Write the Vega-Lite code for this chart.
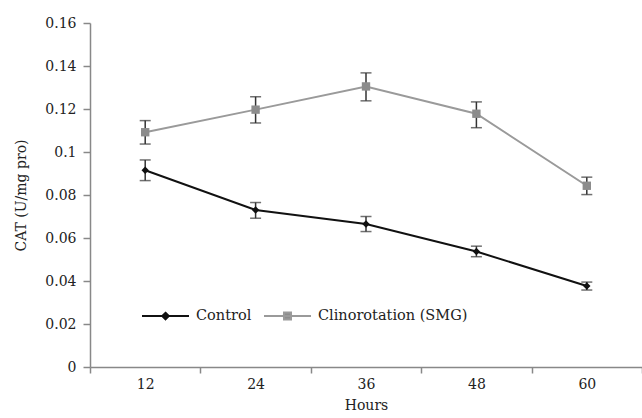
{
  "$schema": "https://vega.github.io/schema/vega-lite/v6.json",
  "width": 552,
  "height": 344,
  "autosize": {"type": "none"},
  "padding": {"left": 90, "top": 23, "right": 0, "bottom": 51},
  "background": "white",
  "config": {"view": {"stroke": null}, "font": "DejaVu Serif"},
  "data": {
    "values": [
      {"Hours": "12", "Group": "Control", "mean": 0.0915, "lo": 0.0867, "hi": 0.0963},
      {"Hours": "24", "Group": "Control", "mean": 0.0730, "lo": 0.0692, "hi": 0.0765},
      {"Hours": "36", "Group": "Control", "mean": 0.0665, "lo": 0.0630, "hi": 0.0700},
      {"Hours": "48", "Group": "Control", "mean": 0.0537, "lo": 0.0513, "hi": 0.0562},
      {"Hours": "60", "Group": "Control", "mean": 0.0377, "lo": 0.0358, "hi": 0.0395},
      {"Hours": "12", "Group": "Clinorotation (SMG)", "mean": 0.1092, "lo": 0.1037, "hi": 0.1146},
      {"Hours": "24", "Group": "Clinorotation (SMG)", "mean": 0.1197, "lo": 0.1135, "hi": 0.1257},
      {"Hours": "36", "Group": "Clinorotation (SMG)", "mean": 0.1305, "lo": 0.1238, "hi": 0.1368},
      {"Hours": "48", "Group": "Clinorotation (SMG)", "mean": 0.1178, "lo": 0.1113, "hi": 0.1233},
      {"Hours": "60", "Group": "Clinorotation (SMG)", "mean": 0.0843, "lo": 0.0802, "hi": 0.0883}
    ]
  },
  "encoding": {
    "x": {
      "field": "Hours", "type": "ordinal", "sort": null,
      "scale": {"type": "band", "paddingInner": 0, "paddingOuter": 0},
      "axis": {
        "title": "Hours", "labelAngle": 0, "tickBand": "extent",
        "domainColor": "#888", "domainWidth": 1.5, "tickColor": "#888", "tickWidth": 1.5, "tickSize": 6,
        "labelFontSize": 14, "labelColor": "#222", "labelPadding": 4,
        "titleFontSize": 14, "titleFontWeight": "normal", "titleColor": "#222", "titlePadding": 7
      }
    }
  },
  "layer": [
    {
      "mark": {"type": "line", "strokeWidth": 2},
      "encoding": {
        "y": {
          "field": "mean", "type": "quantitative",
          "scale": {"domain": [0, 0.16]},
          "axis": {
            "title": "CAT (U/mg pro)", "values": [0, 0.02, 0.04, 0.06, 0.08, 0.1, 0.12, 0.14, 0.16],
            "format": "~g", "grid": false,
            "domainColor": "#888", "domainWidth": 1.5, "tickColor": "#888", "tickWidth": 1.5, "tickSize": 7,
            "labelFontSize": 14, "labelColor": "#222", "labelPadding": 7,
            "titleFontSize": 14, "titleFontWeight": "normal", "titleColor": "#222", "titlePadding": 16
          }
        },
        "color": {
          "field": "Group", "type": "nominal",
          "scale": {"domain": ["Control", "Clinorotation (SMG)"], "range": ["#111111", "#9a9a9a"]},
          "legend": {
            "orient": "none", "legendX": 51, "legendY": 268, "direction": "horizontal",
            "title": null, "labelFontSize": 14.5, "labelColor": "#222", "labelOffset": 6,
            "columnPadding": 8, "symbolSize": 2209, "symbolStrokeWidth": 2,
            "encode": {
              "symbols": {
                "update": {
                  "shape": {"signal": "datum.value === 'Control' ? 'M-1,0L1,0M0,-0.14L0.14,0L0,0.14L-0.14,0Z' : 'M-1,0L1,0M-0.15,-0.15L0.15,-0.15L0.15,0.15L-0.15,0.15Z'"},
                  "fill": {"signal": "datum.value === 'Control' ? '#111111' : '#8c8c8c'"},
                  "fillOpacity": {"value": 1}
                }
              }
            }
          }
        }
      }
    },
    {
      "mark": {"type": "rule", "strokeWidth": 1.5, "color": "#333"},
      "encoding": {
        "y": {"field": "lo", "type": "quantitative"},
        "y2": {"field": "hi"}
      }
    },
    {
      "mark": {"type": "tick", "size": 11, "thickness": 1.5, "color": "#333"},
      "encoding": {"y": {"field": "lo", "type": "quantitative"}}
    },
    {
      "mark": {"type": "tick", "size": 11, "thickness": 1.5, "color": "#333"},
      "encoding": {"y": {"field": "hi", "type": "quantitative"}}
    },
    {
      "mark": {"type": "point", "filled": true, "opacity": 1},
      "encoding": {
        "y": {"field": "mean", "type": "quantitative"},
        "shape": {
          "field": "Group", "type": "nominal",
          "scale": {"domain": ["Control", "Clinorotation (SMG)"], "range": ["diamond", "square"]},
          "legend": null
        },
        "size": {
          "field": "Group", "type": "nominal",
          "scale": {"domain": ["Control", "Clinorotation (SMG)"], "range": [55, 70]},
          "legend": null
        },
        "color": {
          "field": "Group", "type": "nominal",
          "scale": {"domain": ["Control", "Clinorotation (SMG)"], "range": ["#111111", "#8c8c8c"]},
          "legend": null
        }
      }
    }
  ],
  "resolve": {"scale": {"color": "independent"}}
}
